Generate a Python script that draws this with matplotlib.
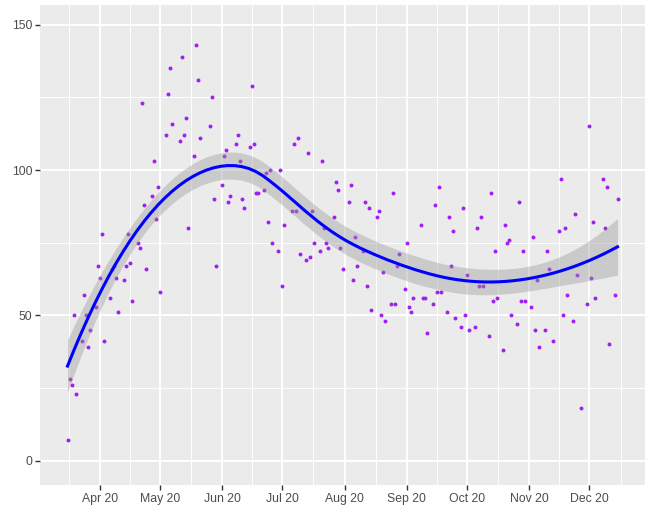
import numpy as np
import matplotlib
matplotlib.use('Agg')
import matplotlib.pyplot as plt
import matplotlib.dates as mdates

# days since 2020-03-16 (weekdays), and daily counts
start = np.datetime64('2020-03-16')
day = [0, 1, 2, 3, 4,
       7, 8, 9, 10, 11,
       14, 15, 16, 17, 18,
       21, 22, 23, 24, 25,
       28, 29, 30, 31, 32,
       35, 36, 37, 38, 39,
       42, 43, 44, 45, 46,
       49, 50, 51, 52,
       56, 57, 58, 59, 60,
       63, 64, 65, 66,
       71, 72, 73, 74,
       77, 78, 79, 80, 81,
       84, 85, 86, 87, 88,
       91, 92, 93, 94, 95,
       98, 99, 100, 101, 102,
       105, 106, 107, 108,
       112, 113, 114, 115, 116,
       119, 120, 121, 122, 123,
       126, 127, 128, 129, 130,
       133, 134, 135, 136, 137,
       140, 141, 142, 143, 144,
       147, 148, 149, 150, 151,
       154, 155, 156, 157, 158,
       161, 162, 163, 164, 165,
       168, 169, 170, 171, 172,
       176, 177, 178, 179,
       182, 183, 184, 185, 186,
       189, 190, 191, 192, 193,
       196, 197, 198, 199, 200,
       203, 204, 205, 206, 207,
       210, 211, 212, 213, 214,
       217, 218, 219, 220, 221,
       224, 225, 226, 227, 228,
       231, 232, 233, 234, 235,
       238, 239, 240, 242,
       245, 246, 247, 248, 249,
       252, 253, 254, 256,
       259, 260, 261, 262, 263,
       267, 268, 269, 270,
       273, 274]
cases = [7, 28, 26, 50, 23,
         41, 57, 50, 39, 45,
         53, 67, 63, 78, 41,
         56, 66, 67, 63, 51,
         62, 67, 78, 68, 55,
         75, 73, 123, 88, 66,
         91, 103, 83, 94, 58,
         112, 126, 135, 116,
         110, 139, 112, 118, 80,
         105, 143, 131, 111,
         115, 125, 90, 67,
         95, 105, 107, 89, 91,
         109, 112, 103, 90, 87,
         108, 129, 109, 92, 92,
         93, 99, 82, 100, 75,
         72, 100, 60, 81,
         86, 109, 86, 111, 71,
         69, 106, 70, 86, 75,
         72, 103, 80, 75, 73,
         84, 96, 93, 73, 66,
         89, 95, 62, 77, 67,
         72, 89, 60, 87, 52,
         84, 86, 50, 65, 48,
         54, 92, 54, 67, 71,
         59, 75, 53, 51, 56,
         81, 56, 56, 44,
         54, 88, 58, 94, 58,
         51, 84, 67, 79, 49,
         46, 87, 50, 64, 45,
         46, 80, 60, 84, 60,
         43, 92, 55, 72, 56,
         38, 81, 75, 76, 50,
         47, 89, 55, 72, 55,
         53, 77, 45, 62, 39,
         45, 72, 66, 41,
         79, 97, 50, 80, 57,
         48, 85, 64, 18,
         54, 115, 63, 82, 56,
         97, 80, 94, 40,
         57, 90]
month_ticks = ['2020-04-01', '2020-05-01', '2020-06-01', '2020-07-01', '2020-08-01',
               '2020-09-01', '2020-10-01', '2020-11-01', '2020-12-01']
y_ticks = [0, 50, 100, 150]


def loess(x, y, xout, span=0.75):
    """local quadratic loess like R's default, returns fit and 95% band"""
    n = len(x)
    q = int(np.floor(n * span))

    def row(x0):
        d = np.abs(x - x0)
        h = np.sort(d)[q - 1]
        w = np.clip(1 - (d / h) ** 3, 0, None) ** 3
        X = np.column_stack([np.ones(n), x - x0, (x - x0) ** 2])
        XtW = X.T * w
        return np.linalg.solve(XtW @ X, XtW)[0]

    L = np.array([row(x0) for x0 in x])
    Lout = np.array([row(x0) for x0 in xout])
    R = np.eye(n) - L
    RR = R.T @ R
    d1 = np.trace(RR)
    d2 = np.trace(RR @ RR)
    s = np.sqrt(np.sum((y - L @ y) ** 2) / d1)
    df = d1 ** 2 / d2
    z = 1.959964
    t = z + (z ** 3 + z) / (4 * df)
    fit = Lout @ y
    se = s * np.sqrt(np.sum(Lout ** 2, axis=1))
    return fit, fit - t * se, fit + t * se


dates = start + np.array(day).astype('timedelta64[D]')
xnum = mdates.date2num(dates.astype('datetime64[s]').astype(object))
yv = np.array(cases, dtype=float)
xgrid = np.linspace(xnum.min(), xnum.max(), 80)
fit, lo, hi = loess(xnum, yv, xgrid)

fig = plt.figure(figsize=(6.49, 5.13), dpi=100)
ax = fig.add_axes([40 / 649, 28 / 513, 605 / 649, 480 / 513])
ax.set_facecolor('#EBEBEB')

ax.scatter(xnum, yv, s=8, color='#A020F0', linewidths=0, zorder=3)
ax.fill_between(xgrid, lo, hi, color='#999999', alpha=0.4, linewidth=0, zorder=4)
ax.plot(xgrid, fit, color='#0000FF', lw=2.2, zorder=5)

xr = xnum.max() - xnum.min()
ax.set_xlim(xnum.min() - 0.05 * xr, xnum.max() + 0.05 * xr)
ax.set_ylim(-8.4, 156.8)

majors = mdates.date2num([np.datetime64(m, 's').astype(object) for m in month_ticks])
edges = mdates.date2num([np.datetime64(m, 's').astype(object) for m in ['2020-03-01'] + month_ticks + ['2021-01-01']])
minors = (edges[:-1] + edges[1:]) / 2
ax.set_xticks(majors)
ax.set_xticklabels([np.datetime64(m, 'D').astype(object).strftime('%b %y') for m in month_ticks])
ax.set_xticks(minors, minor=True)
ax.set_yticks(y_ticks)
ax.set_yticks([25, 75, 125], minor=True)

ax.grid(True, which='major', color='white', lw=1.4)
ax.grid(True, which='minor', color='white', lw=0.7)
ax.set_axisbelow(True)
for sp in ax.spines.values():
    sp.set_visible(False)
ax.tick_params(which='major', length=3.5, width=1, color='#333333', labelcolor='#4D4D4D',
               labelsize=8.8, pad=2)
ax.tick_params(which='minor', length=0)
for lab in ax.get_xticklabels() + ax.get_yticklabels():
    lab.set_family('Liberation Sans')

fig.savefig('out.png', dpi=100)
